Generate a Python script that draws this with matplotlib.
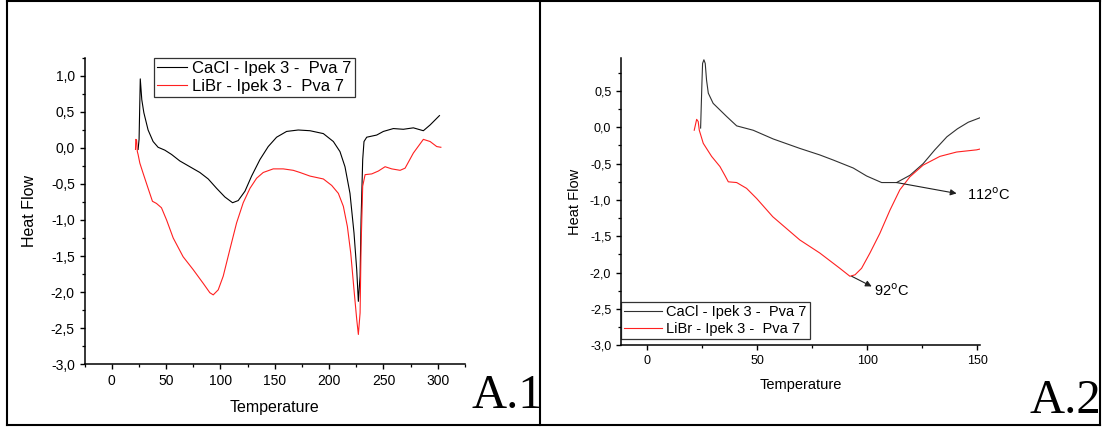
import numpy as np
import matplotlib
matplotlib.use("Agg")
from matplotlib import pyplot as plt
from matplotlib.ticker import MultipleLocator, FuncFormatter
from matplotlib.lines import Line2D

plt.rcParams['font.family'] = ['Liberation Sans', 'DejaVu Sans']

# ---- A.1 data (full range)
t1_cacl = [24.3, 25.2, 26.3, 27.7, 29.6, 33.5, 38.1, 42.7, 48.9, 55.1, 62.7, 71.9, 81.1, 88.8, 96.5,
           104.1, 111.2, 116.4, 122.6, 128.7, 136.4, 144.0, 151.7, 160.9, 171.6, 182.4, 194.7,
           203.9, 210.0, 214.6, 219.2, 222.9, 225.4, 226.9, 228.5, 229.4, 230.9, 232.1, 234.6,
           243.8, 249.9, 259.1, 268.3, 277.5, 286.7, 292.9, 301.5]
hf1_cacl = [-0.02, 0.12, 0.96, 0.67, 0.49, 0.25, 0.09, 0.01, -0.03, -0.09, -0.18, -0.26, -0.34, -0.43, -0.56,
            -0.68, -0.76, -0.73, -0.60, -0.39, -0.16, 0.02, 0.15, 0.23, 0.25, 0.24, 0.20,
            0.09, -0.05, -0.26, -0.63, -1.18, -1.69, -2.13, -1.78, -1.00, -0.16, 0.09, 0.15,
            0.18, 0.23, 0.27, 0.26, 0.28, 0.24, 0.32, 0.45]

t1_libr = [21.9, 22.2, 22.9, 23.6, 24.3, 25.9, 28.9, 33.5, 37.5, 41.2, 45.8, 50.5, 56.6, 65.7, 75.0,
           84.2, 90.3, 93.4, 98.0, 102.6, 108.7, 114.9, 121.0, 127.2, 133.3, 139.4, 148.6, 157.8,
           167.0, 173.2, 182.4, 194.7, 202.4, 208.5, 213.1, 216.8, 219.9, 222.9, 225.4, 226.9,
           228.5, 229.4, 230.9, 233.1, 239.2, 245.3, 251.5, 257.6, 265.3, 269.9, 277.5, 286.7,
           292.9, 299.0, 302.8]
hf1_libr = [-0.02, 0.12, 0.11, -0.05, -0.09, -0.21, -0.35, -0.56, -0.74, -0.77, -0.83, -1.00, -1.25, -1.51, -1.69,
            -1.88, -2.01, -2.04, -1.97, -1.78, -1.41, -1.04, -0.76, -0.56, -0.42, -0.34, -0.29, -0.29,
            -0.31, -0.34, -0.39, -0.43, -0.52, -0.63, -0.81, -1.09, -1.46, -1.97, -2.38, -2.59,
            -2.29, -1.37, -0.53, -0.37, -0.36, -0.32, -0.26, -0.29, -0.31, -0.28, -0.07, 0.12,
            0.09, 0.02, 0.01]

# ---- A.2 data (zoom up to 150)
t2_cacl = [24.2, 24.8, 25.1, 25.7, 26.3, 26.9, 27.7, 29.9, 36.0, 40.6, 48.1, 57.2, 69.3, 78.4, 84.5,
           93.6, 99.7, 106.5, 113.3, 119.4, 125.4, 130.7, 136.2, 141.0, 145.9, 151.1]
hf2_cacl = [-0.01, 0.61, 0.88, 0.93, 0.88, 0.65, 0.47, 0.33, 0.15, 0.02, -0.04, -0.16, -0.29, -0.38, -0.45,
            -0.56, -0.67, -0.76, -0.76, -0.66, -0.50, -0.31, -0.13, -0.02, 0.07, 0.13]

t2_libr = [21.3, 22.4, 23.1, 23.6, 25.4, 29.2, 33.0, 35.2, 36.8, 40.6, 45.1, 49.7, 57.0, 69.3, 78.4,
           87.5, 92.1, 94.4, 97.4, 101.2, 105.7, 110.3, 114.8, 119.4, 125.4, 133.0, 140.6, 149.7, 151.1]
hf2_libr = [-0.04, 0.11, 0.08, -0.04, -0.22, -0.40, -0.54, -0.66, -0.75, -0.76, -0.84, -0.98, -1.23, -1.55, -1.73,
            -1.94, -2.05, -2.03, -1.94, -1.73, -1.46, -1.14, -0.86, -0.68, -0.52, -0.40, -0.34, -0.31, -0.30]

lab_cacl = "CaCl - Ipek 3 -  Pva 7"
lab_libr = "LiBr - Ipek 3 -  Pva 7"

W, H = 1103, 432
fig = plt.figure(figsize=(W / 100, H / 100), dpi=100)


def comma(v, pos):
    return ("%.1f" % v).replace('.', ',').replace('\u2212', '-')


def style(ax, tick_fs):
    for s in ['top', 'right']:
        ax.spines[s].set_visible(False)
    for s in ['left', 'bottom']:
        ax.spines[s].set_linewidth(1.1)
    ax.tick_params(which='major', direction='out', length=3.5, width=1.0, labelsize=tick_fs, pad=3.5)
    ax.tick_params(which='minor', direction='out', length=2, width=0.9)
    ax.xaxis.set_major_locator(MultipleLocator(50))
    ax.xaxis.set_minor_locator(MultipleLocator(25))
    ax.yaxis.set_major_locator(MultipleLocator(0.5))
    ax.yaxis.set_minor_locator(MultipleLocator(0.25))
    ax.yaxis.set_major_formatter(FuncFormatter(comma))
    ax.xaxis.set_major_formatter(FuncFormatter(lambda v, p: "%d" % v))


#### A.1
ax1 = fig.add_axes([84.5 / W, 1 - 364 / H, (465 - 84.5) / W, (364 - 58) / H])
ax1.plot(t1_cacl, hf1_cacl, color='black', lw=0.8, label=lab_cacl)
ax1.plot(t1_libr, hf1_libr, color='#ff2020', lw=0.8, label=lab_libr)
ax1.set_xlim(-25, 325)
ax1.set_ylim(-3.0, 1.25)
style(ax1, 10)
ax1.set_xlabel('Temperature', fontsize=11.5, labelpad=9)
ax1.set_ylabel('Heat Flow', fontsize=11.5, labelpad=10)
leg1 = ax1.legend(loc='upper left', bbox_to_anchor=((153.6 - 84.5) / (465 - 84.5), 1.0), borderaxespad=0,
                  fontsize=12, fancybox=False, edgecolor='black', handlelength=1.8, handletextpad=0.3,
                  borderpad=0.2, labelspacing=0.15)
leg1.get_frame().set_linewidth(0.9)

#### A.2
ax2 = fig.add_axes([621 / W, 1 - 345.3 / H, (979.9 - 621) / W, (345.3 - 58.3) / H])
ax2.plot(t2_cacl, hf2_cacl, color='#303030', lw=0.8, label=lab_cacl)
ax2.plot(t2_libr, hf2_libr, color='#ff2020', lw=0.8, label=lab_libr)
ax2.set_xlim(-12, 151.2)
ax2.set_ylim(-3.0, 0.95)
style(ax2, 9)
ax2.set_xlabel('Temperature', fontsize=10.5, labelpad=8)
ax2.set_ylabel('Heat Flow', fontsize=10.5, labelpad=6)
leg2 = ax2.legend(loc='lower left', bbox_to_anchor=(0.0, 0.022), borderaxespad=0,
                  fontsize=10.5, fancybox=False, edgecolor='black', handlelength=2.6, handletextpad=0.3,
                  borderpad=0.2, labelspacing=0.2)
leg2.get_frame().set_linewidth(0.9)

# arrows pointing from the minima to the labels
arrow = dict(arrowstyle='-|>', color='#202020', lw=0.8, mutation_scale=9, shrinkA=0, shrinkB=0)
ax2.annotate('', xy=(140.6, -0.91), xytext=(113.3, -0.76), arrowprops=arrow)
ax2.text(145.4, -0.93, '112$^{\\rm o}$C', fontsize=10.5, va='center', ha='left')
ax2.annotate('', xy=(102.0, -2.19), xytext=(92.9, -2.05), arrowprops=arrow)
ax2.text(103.0, -2.25, '92$^{\\rm o}$C', fontsize=10.5, va='center', ha='left')

#### panel labels
fig.text(471 / W, 1 - 408 / H, 'A.1', family='Liberation Serif', fontsize=35, va='baseline', ha='left')
fig.text(1029 / W, 1 - 413 / H, 'A.2', family='Liberation Serif', fontsize=35, va='baseline', ha='left')

#### frame around the panels
lw = 1.5
for xs, ys in [([7, 7], [1, 425]), ([7, 1100], [1, 1]), ([7, 1100], [425, 425]),
               ([539.7, 539.7], [1, 425]), ([1100, 1100], [1, 425])]:
    fig.add_artist(Line2D([x / W for x in xs], [1 - y / H for y in ys], color='black', lw=lw))

plt.savefig('out.png', dpi=100)
